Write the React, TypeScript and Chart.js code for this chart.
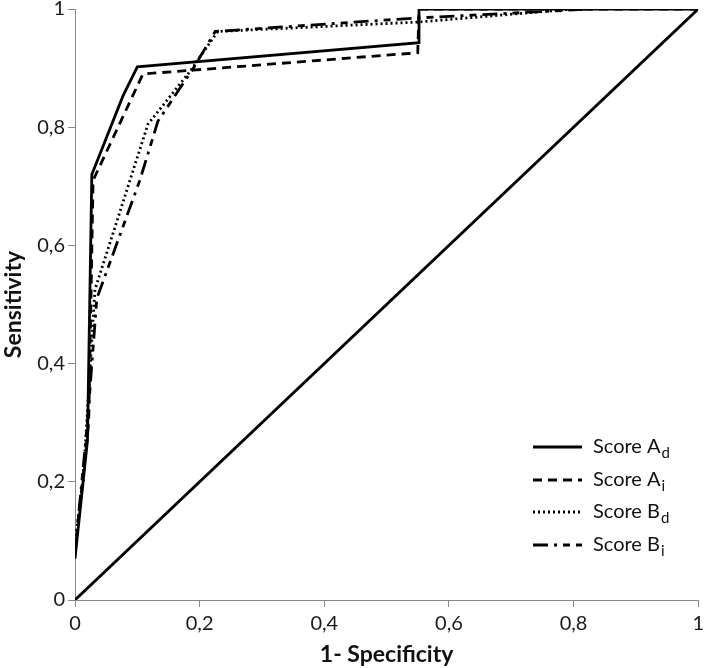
import React, { useEffect, useRef } from "react";
import { Chart, registerables } from "chart.js";

Chart.register(...registerables);

// 1 - specificity (x) and sensitivity (y) for each score
const scoreAdX = [0, 0.02, 0.027, 0.077, 0.1, 0.552, 0.552, 1];
const scoreAdY = [0.07, 0.27, 0.72, 0.853, 0.902, 0.943, 1, 1];

const scoreAiX = [0, 0.022, 0.029, 0.109, 0.55, 0.552, 1];
const scoreAiY = [0.08, 0.3, 0.71, 0.89, 0.926, 1, 1];

const scoreBdX = [0, 0.013, 0.032, 0.117, 0.185, 0.229, 0.552, 0.8];
const scoreBdY = [0.1, 0.2, 0.525, 0.805, 0.895, 0.962, 0.978, 1];

const scoreBiX = [0, 0.02, 0.035, 0.104, 0.133, 0.19, 0.225, 0.552, 0.83];
const scoreBiY = [0.08, 0.3, 0.51, 0.71, 0.81, 0.9, 0.962, 0.985, 1];

const refX = [0, 1];
const refY = [0, 1];

const seriesNames = ["Score A", "Score A", "Score B", "Score B"];
const seriesSubs = ["d", "i", "d", "i"];

const xTicks = [0, 0.2, 0.4, 0.6, 0.8, 1];
const yTicks = [0, 0.2, 0.4, 0.6, 0.8, 1];

const xTitle = "1- Specificity";
const yTitle = "Sensitivity";

const FONT = "Lato, 'Open Sans', sans-serif";
const dashes: number[][] = [[], [9, 6], [2, 3], [15, 6, 3, 6, 7, 6]];
const SHIFT = 6;

const toPts = (xs: number[], ys: number[]) => xs.map((x, i) => ({ x, y: ys[i] }));
const fmt = (v: number) => Number(Number(v).toFixed(1)).toString().replace(".", ",");

const legendPlugin = {
  id: "subLegend",
  afterDraw(chart: any) {
    const ctx = chart.ctx as CanvasRenderingContext2D;
    const x0 = 533;
    const x1 = 582;
    const tx = 593;
    const rows = [447, 480, 512, 545].map((r) => r + SHIFT);
    ctx.save();
    rows.forEach((y, i) => {
      ctx.beginPath();
      ctx.setLineDash(dashes[i]);
      ctx.lineWidth = 2.8;
      ctx.strokeStyle = "#000";
      ctx.moveTo(x0, y);
      ctx.lineTo(x1, y);
      ctx.stroke();
      ctx.setLineDash([]);
      ctx.fillStyle = "#111";
      ctx.textBaseline = "middle";
      ctx.textAlign = "left";
      ctx.font = `20px ${FONT}`;
      ctx.fillText(seriesNames[i], tx, y);
      const w = ctx.measureText(seriesNames[i]).width;
      ctx.font = `15px ${FONT}`;
      ctx.fillText(seriesSubs[i], tx + w + 1, y + 6);
    });
    ctx.restore();
  },
};

export default function App() {
  const ref = useRef<HTMLCanvasElement | null>(null);
  useEffect(() => {
    document.body.style.margin = "0";
    const canvas = ref.current!;
    const mk = (xs: number[], ys: number[], dash: number[]) => ({
      data: toPts(xs, ys),
      showLine: true,
      borderColor: "#000",
      borderWidth: 2.8,
      borderDash: dash,
      pointRadius: 0,
      tension: 0,
      fill: false,
    });
    const chart = new Chart(canvas, {
      type: "scatter",
      data: {
        datasets: [
          mk(refX, refY, []),
          mk(scoreAdX, scoreAdY, dashes[0]),
          mk(scoreAiX, scoreAiY, dashes[1]),
          mk(scoreBdX, scoreBdY, dashes[2]),
          mk(scoreBiX, scoreBiY, dashes[3]),
        ],
      },
      options: {
        animation: false,
        responsive: false,
        layout: { padding: { top: 0, right: 9, left: 0, bottom: 0 } },
        plugins: { legend: { display: false }, tooltip: { enabled: false } },
        scales: {
          x: {
            type: "linear",
            min: 0,
            max: 1,
            afterBuildTicks: (s: any) => {
              s.ticks = xTicks.map((v) => ({ value: v }));
            },
            ticks: {
              callback: (v: any) => fmt(v),
              color: "#1a1a1a",
              font: { family: FONT, size: 20 },
              padding: 5,
              maxRotation: 0,
            },
            grid: { drawOnChartArea: false, drawTicks: true, tickLength: 7, color: "#888" },
            border: { color: "#888", width: 1 },
            title: {
              display: true,
              text: xTitle,
              color: "#111",
              font: { family: FONT, size: 23, weight: "bold" },
              padding: { top: 0, bottom: 0 },
            },
            afterFit: (s: any) => {
              s.height = 68;
            },
          },
          y: {
            type: "linear",
            min: 0,
            max: 1,
            afterBuildTicks: (s: any) => {
              s.ticks = yTicks.map((v) => ({ value: v }));
            },
            ticks: {
              callback: (v: any) => fmt(v),
              color: "#1a1a1a",
              font: { family: FONT, size: 20 },
              padding: 3,
            },
            grid: { drawOnChartArea: false, drawTicks: true, tickLength: 7, color: "#888" },
            border: { color: "#888", width: 1 },
            title: {
              display: true,
              text: yTitle,
              color: "#111",
              font: { family: FONT, size: 23, weight: "bold" },
              padding: { top: 0, bottom: 2 },
            },
            afterFit: (s: any) => {
              s.width = 75;
            },
          },
        },
      } as any,
      plugins: [legendPlugin],
    });
    return () => chart.destroy();
  }, []);
  return (
    <div style={{ width: 709, height: 668, overflow: "hidden" }}>
      <canvas
        ref={ref}
        width={709}
        height={668 + SHIFT}
        style={{ display: "block", marginTop: -SHIFT }}
      />
    </div>
  );
}
